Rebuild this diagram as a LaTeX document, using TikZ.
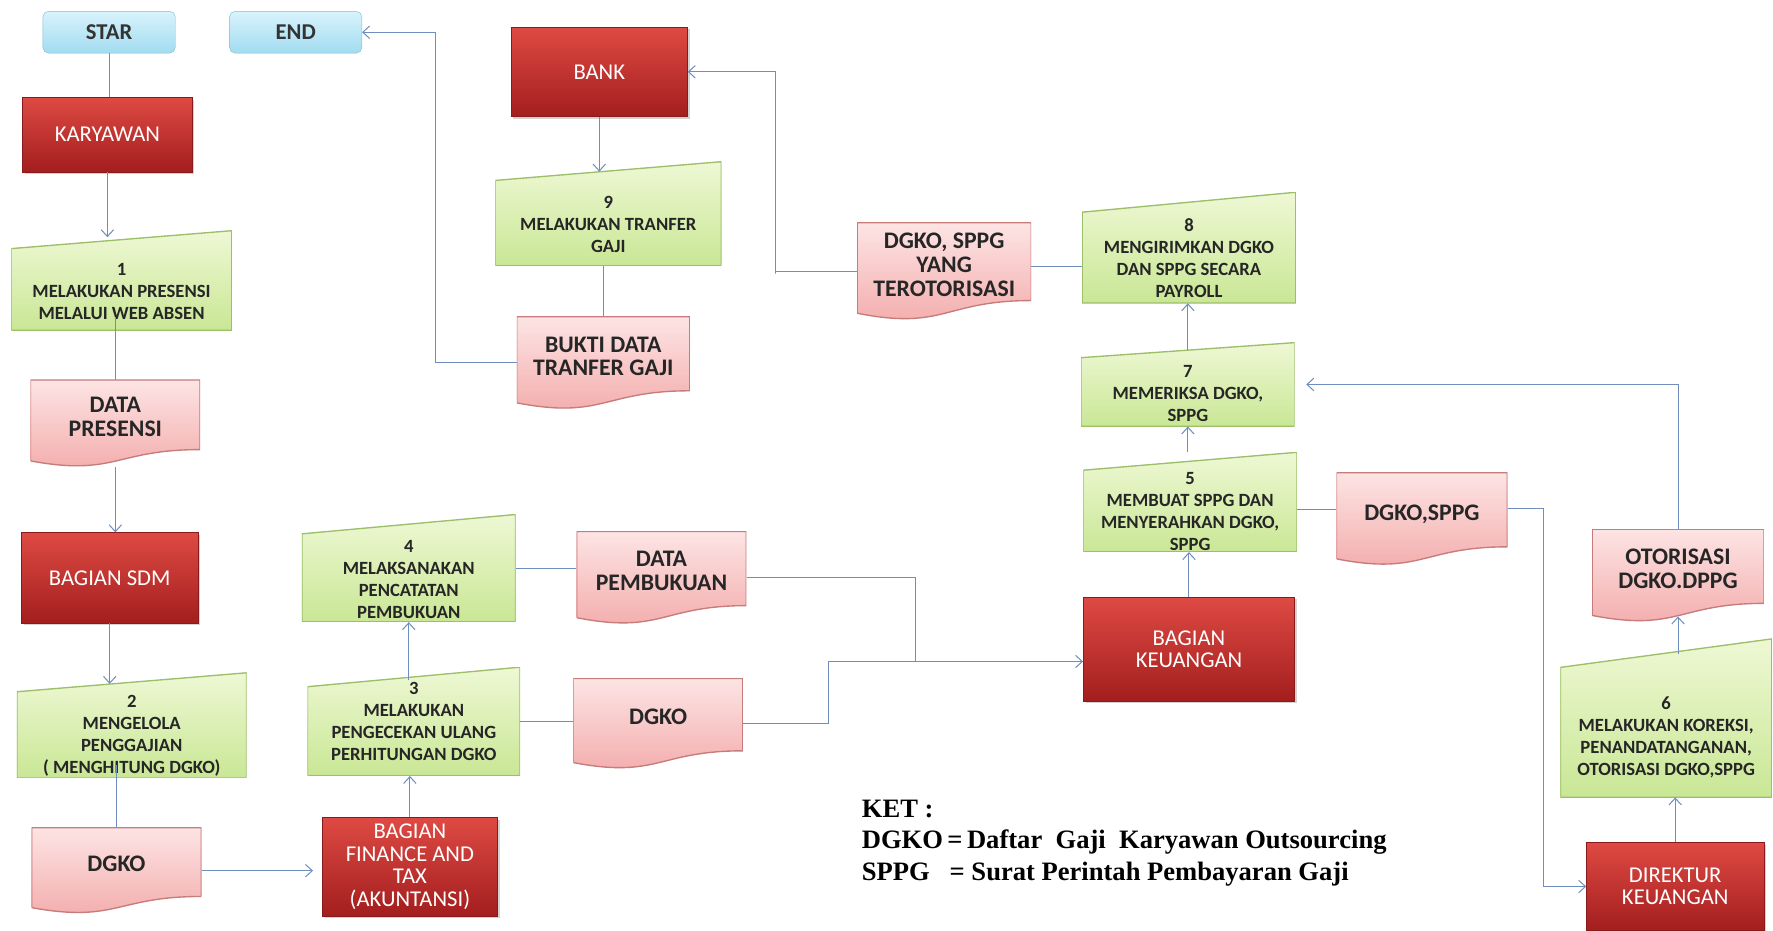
\documentclass[tikz,border=0pt]{standalone}
\usepackage{fontspec}
\setmainfont{Carlito}
\newfontfamily\ketfont{Liberation Serif}
\usetikzlibrary{arrows.meta,calc,shadows}

\definecolor{redtop}{HTML}{DE4A43}
\definecolor{redbot}{HTML}{A31E1E}
\definecolor{redline}{HTML}{8A1A1A}
\definecolor{greentop}{HTML}{EEF8D4}
\definecolor{greenbot}{HTML}{C9E795}
\definecolor{greenline}{HTML}{9DBF6A}
\definecolor{pinktop}{HTML}{FDE4E4}
\definecolor{pinkbot}{HTML}{F3A9A9}
\definecolor{pinkline}{HTML}{C77B7B}
\definecolor{bluetop}{HTML}{D8F3FC}
\definecolor{bluebot}{HTML}{A2DCF0}
\definecolor{blueline}{HTML}{86BCD3}
\definecolor{flow}{HTML}{6E8EBD}

\newcommand\stepgap[1]{\rule{0pt}{#1}}

\tikzset{
  terminal/.style={draw=blueline,rounded corners=5pt,top color=bluetop,bottom color=bluebot,
    font=\bfseries\fontsize{20}{22}\selectfont,text=black!80},
  actor/.style={draw=redline,top color=redtop,bottom color=redbot,text=white,
    font=\fontsize{20}{20}\selectfont,align=center,
    drop shadow={opacity=0.35,shadow xshift=2pt,shadow yshift=-2pt}},
  process/.style={align=center,inner ysep=0pt,font=\bfseries\fontsize{16.5}{19.5}\selectfont,text=black!85,
    path picture={
      \shadedraw[top color=greentop,bottom color=greenbot,draw=greenline,line width=1.2pt]
        (path picture bounding box.south west) -- (path picture bounding box.south east)
        -- (path picture bounding box.north east)
        -- ($(path picture bounding box.north west)!0.18!(path picture bounding box.south west)$)
        -- cycle;}},
  docbox/.style={align=center,font=\bfseries\fontsize{21}{21}\selectfont,text=black!85,
    text depth=12pt,
    path picture={
      \shadedraw[top color=pinktop,bottom color=pinkbot,draw=pinkline,line width=1.2pt]
        (path picture bounding box.north west) -- (path picture bounding box.north east)
        -- ($(path picture bounding box.north east)!0.80!(path picture bounding box.south east)$)
        .. controls ($(path picture bounding box.north)!0.80!(path picture bounding box.south)$)
        and ($(path picture bounding box.north)!1.11!(path picture bounding box.south)$)
        .. ($(path picture bounding box.north west)!0.93!(path picture bounding box.south west)$)
        -- cycle;}},
  flowline/.style={draw=flow,line width=0.9pt},
  >={Straight Barb[length=6pt,width=11pt]}
}

\begin{document}
\begin{tikzpicture}[x=1pt,y=-1pt]
\useasboundingbox (0,0) rectangle (1568,823);

\node[terminal,minimum width=117pt,minimum height=37pt] (star) at (96.5,28.5) {STAR};
\node[terminal,minimum width=117pt,minimum height=37pt] (endn) at (261.5,28.5) {END};
\node[actor,minimum width=150pt,minimum height=66pt] (karyawan) at (95,119) {KARYAWAN};
\node[process,minimum width=195pt,minimum height=88pt] (p1) at (107.5,248) {\stepgap{30pt}1\\MELAKUKAN PRESENSI\\MELALUI WEB ABSEN};
\node[docbox,minimum width=150pt,minimum height=77pt] (datapres) at (102,374.5) {DATA\\PRESENSI};
\node[actor,minimum width=156pt,minimum height=80pt] (sdm) at (97,511) {BAGIAN SDM};
\node[process,minimum width=203pt,minimum height=93pt] (p2) at (116.5,641.5) {\stepgap{29pt}2\\MENGELOLA\\PENGGAJIAN\\( MENGHITUNG DGKO)};
\node[docbox,minimum width=150pt,minimum height=76pt] (dgkoA) at (103,770) {DGKO};
\node[actor,minimum width=155pt,minimum height=87pt] (finance) at (362.5,766.5) {BAGIAN\\FINANCE AND\\TAX\\(AKUNTANSI)};
\node[process,minimum width=188pt,minimum height=96pt] (p3) at (366,638) {3\\MELAKUKAN\\PENGECEKAN ULANG\\PERHITUNGAN DGKO};
\node[process,minimum width=189pt,minimum height=95pt] (p4) at (361.5,502.5) {\stepgap{30pt}4\\MELAKSANAKAN\\PENCATATAN\\PEMBUKUAN};
\node[docbox,minimum width=150pt,minimum height=82pt] (pemb) at (585,511) {DATA\\PEMBUKUAN};
\node[docbox,minimum width=150pt,minimum height=80pt] (dgkoB) at (582,640) {DGKO};
\node[actor,minimum width=187pt,minimum height=92pt] (keu) at (1051.5,574) {BAGIAN\\KEUANGAN};
\node[process,minimum width=189pt,minimum height=88pt] (p5) at (1052.5,444) {\stepgap{28pt}5\\MEMBUAT SPPG DAN\\MENYERAHKAN DGKO,\\SPPG};
\node[docbox,minimum width=151pt,minimum height=82pt] (dgkosppg) at (1257.5,459) {DGKO,SPPG};
\node[actor,minimum width=157pt,minimum height=78pt] (direktur) at (1481.5,784) {DIREKTUR\\KEUANGAN};
\node[process,minimum width=187pt,minimum height=140pt] (p6) at (1473.5,635) {\stepgap{45pt}6\\MELAKUKAN KOREKSI,\\PENANDATANGANAN,\\OTORISASI DGKO,SPPG};
\node[docbox,minimum width=152pt,minimum height=82pt] (otor) at (1484,509) {OTORISASI\\DGKO.DPPG};
\node[process,minimum width=189pt,minimum height=74pt] (p7) at (1050.5,340) {\stepgap{26pt}7\\MEMERIKSA DGKO,\\SPPG};
\node[process,minimum width=189pt,minimum height=98pt] (p8) at (1051.5,219) {\stepgap{30pt}8\\MENGIRIMKAN DGKO\\DAN SPPG SECARA\\PAYROLL};
\node[docbox,minimum width=154pt,minimum height=86pt] (teroto) at (835,240) {DGKO, SPPG\\YANG\\TEROTORISASI};
\node[actor,minimum width=156pt,minimum height=79pt] (bank) at (530,63.5) {BANK};
\node[process,minimum width=200pt,minimum height=92pt] (p9) at (538,189) {\stepgap{30pt}9\\MELAKUKAN TRANFER\\GAJI};
\node[docbox,minimum width=153pt,minimum height=82pt] (bukti) at (533.5,321) {BUKTI DATA\\TRANFER GAJI};

\node[anchor=north west,inner sep=0pt,align=left,font=\ketfont\bfseries\fontsize{23.5}{28}\selectfont] (ket) at (762,707)
  {KET :\\DGKO\,=\,Daftar\ \ Gaji\ \ Karyawan Outsourcing\\SPPG\ \ \ = Surat Perintah Pembayaran Gaji};

\coordinate (join) at (810,585);
\coordinate (bendB) at (733,640);
\coordinate (bendD) at (1365,450);
\coordinate (bendT) at (686,242);
\coordinate (bendE) at (385,321);

\path[flowline] (star.south) -- (star.south |- karyawan.north);
\path[flowline,->] (karyawan.south) -- ([yshift=-6pt]karyawan.south |- p1.north);
\path[flowline] ([yshift=12pt]datapres.north |- p1.south) -- (datapres.north);
\path[flowline,->] (datapres.south) -- (datapres.south |- sdm.north);
\path[flowline,->] (sdm.south) -- ([yshift=-10pt]sdm.south |- p2.north);
\path[flowline] ([yshift=12pt]dgkoA.north |- p2.south) -- (dgkoA.north);
\path[flowline,->,shorten >=8pt] (dgkoA.east) -- (dgkoA.east -| finance.west);
\path[flowline,->] (finance.north) -- (finance.north |- p3.south);
\path[flowline,->] ([yshift=-12pt]p4.south |- p3.north) -- (p4.south);
\path[flowline] (p4.east) -- (p4.east -| pemb.west);
\path[flowline] (p3.east) -- (p3.east -| dgkoB.west);
\path[flowline,->] (pemb.east) -| (join) -- (join -| keu.west);
\path[flowline] (dgkoB.east) -| (bendB) |- (join);
\path[flowline,->] (keu.north) -- (keu.north |- p5.south);
\path[flowline,->] (p7.south |- p5.north) -- (p7.south);
\path[flowline,->] ([yshift=-7pt]p7.north) -- (p7.north |- p8.south);
\path[flowline] ([yshift=-7pt]p5.east) -- ([yshift=-7pt]p5.east -| dgkosppg.west);
\path[flowline,->] ([yshift=9pt]dgkosppg.east) -| (bendD) |- (direktur.west);
\path[flowline,->] (direktur.north) -- (direktur.north |- p6.south);
\path[flowline,->] ([yshift=-14pt]otor.south |- p6.north) -- ([yshift=5pt]otor.south);
\path[flowline,->,shorten >=10pt] (otor.north) |- (p7.east);
\path[flowline] ([yshift=-17pt]p8.west) -- ([yshift=-17pt]p8.west -| teroto.east);
\path[flowline,->] (teroto.west) -| (bendT) |- (bank.east);
\path[flowline,->] (bank.south) -- ([yshift=-9pt]bank.south |- p9.north);
\path[flowline] (bukti.north |- p9.south) -- (bukti.north);
\path[flowline,->] (bukti.west) -| (bendE) |- (endn.east);
\end{tikzpicture}
\end{document}
